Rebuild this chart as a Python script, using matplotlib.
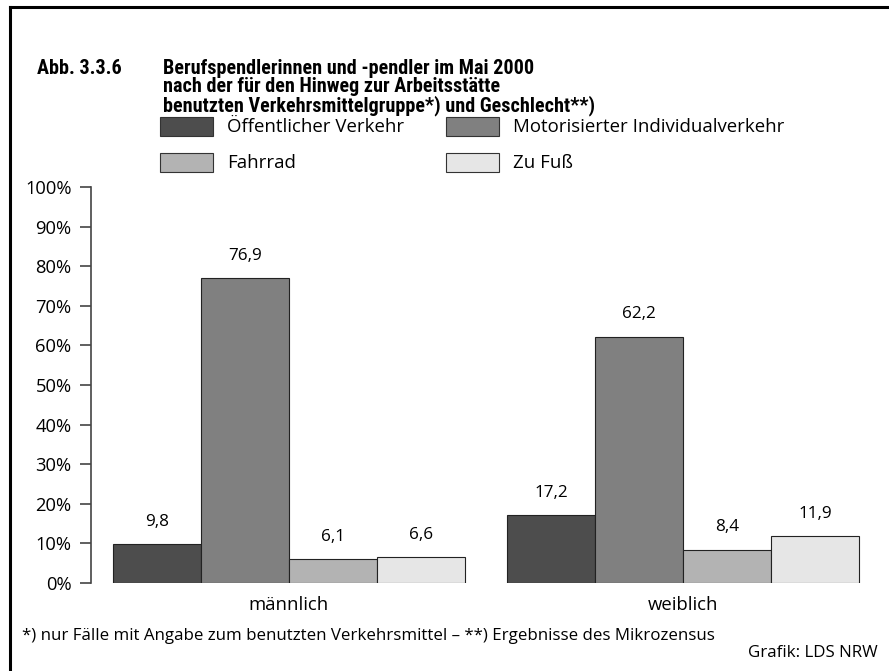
import matplotlib.pyplot as plt
from matplotlib.patches import Rectangle
from matplotlib.lines import Line2D
import numpy as np

# --- Data ---
groups = ["männlich", "weiblich"]
modes = ["Öffentlicher Verkehr", "Motorisierter Individualverkehr", "Fahrrad", "Zu Fuß"]
values = {
    "Öffentlicher Verkehr": [9.8, 17.2],
    "Motorisierter Individualverkehr": [76.9, 62.2],
    "Fahrrad": [6.1, 8.4],
    "Zu Fuß": [6.6, 11.9],
}
colors = ["#4d4d4d", "#808080", "#b3b3b3", "#e6e6e6"]
yticks = list(range(0, 101, 10))
title_lines = ["Berufspendlerinnen und -pendler im Mai 2000",
               "nach der für den Hinweg zur Arbeitsstätte",
               "benutzten Verkehrsmittelgruppe*) und Geschlecht**)"]
footnote = "*) nur Fälle mit Angabe zum benutzten Verkehrsmittel – **) Ergebnisse des Mikrozensus"
source = "Grafik: LDS NRW"

W, H = 889, 671
FONT = ["Open Sans", "DejaVu Sans"]
TITLE_FONT = ["Roboto Condensed", "Open Sans", "DejaVu Sans"]

def fx(px):
    return px / W

def fy(py):
    return 1 - py / H

fig = plt.figure(figsize=(W / 100, H / 100), dpi=100)
plt.rcParams['font.family'] = FONT
renderer = fig.canvas.get_renderer()

def fit_size(text, width_px, **kw):
    # font size that makes the text about width_px wide
    t = fig.text(0, 0, text, fontsize=10, **kw)
    w = t.get_window_extent(renderer).width
    t.remove()
    return 10 * width_px / w

tkw = dict(fontweight="bold", family=TITLE_FONT)
title_fs = fit_size(title_lines[0], 370, **tkw)
legend_fs = fit_size(modes[1], 270)
tick_fs = fit_size("100%", 47)
value_fs = fit_size("76,9", 34)
cat_fs = fit_size(groups[0], 80)
foot_fs = fit_size(footnote, 694)

# --- Frame lines ---
fig.add_artist(Line2D([fx(10), 1.0], [fy(7), fy(7)], color="black", lw=2.2))
fig.add_artist(Line2D([fx(10), fx(10)], [fy(7), 0.0], color="black", lw=2.2))

# --- Title ---
fig.text(fx(37), fy(68), "Abb. 3.3.6", fontsize=title_fs, va="center", **tkw)
for i, line in enumerate(title_lines):
    fig.text(fx(163), fy(68 + 19 * i), line, fontsize=title_fs, va="center", **tkw)

# --- Legend (manual) ---
leg_pos = [(160, 117), (446, 117), (160, 153), (446, 153)]
for (lx, ly), name, c in zip(leg_pos, modes, colors):
    fig.add_artist(Rectangle((fx(lx), fy(ly + 19)), fx(53), 19 / H, facecolor=c,
                             edgecolor="#333333", lw=0.8, transform=fig.transFigure))
    fig.text(fx(lx + 67), fy(ly + 10), name, fontsize=legend_fs, va="center", ha="left")

# --- Axes ---
ax = fig.add_axes([fx(91), fy(583), fx(880 - 91), (583 - 187) / H])
x = np.arange(len(groups))
bw = 88 / 394.5
offsets = (np.arange(len(modes)) - 1.5) * bw
for i, (name, c) in enumerate(zip(modes, colors)):
    bars = ax.bar(x + offsets[i], values[name], width=bw, color=c, edgecolor="#222222", lw=0.8)
    for b, v in zip(bars, values[name]):
        ax.text(b.get_x() + b.get_width() / 2, v + 3.6, f"{v:.1f}".replace(".", ","),
                ha="center", va="bottom", fontsize=value_fs)

ax.set_ylim(0, 100)
ax.set_xlim(-0.502, 1.5)
ax.set_yticks(yticks)
ax.set_yticklabels([f"{t}%" for t in yticks], fontsize=tick_fs)
ax.set_xticks(x)
ax.set_xticklabels(groups, fontsize=cat_fs)
ax.tick_params(axis="x", length=0, pad=9)
ax.tick_params(axis="y", length=8, width=1.2, color="#444444", pad=6)
for s in ["top", "right", "bottom"]:
    ax.spines[s].set_visible(False)
ax.spines["left"].set_color("#444444")
ax.spines["left"].set_linewidth(1.2)
ax.patch.set_alpha(0)

# --- Footer ---
fig.text(fx(22), fy(636), footnote, fontsize=foot_fs, va="center", ha="left")
fig.text(fx(878), fy(653), source, fontsize=foot_fs, va="center", ha="right")

fig.savefig("out.png", dpi=100)
